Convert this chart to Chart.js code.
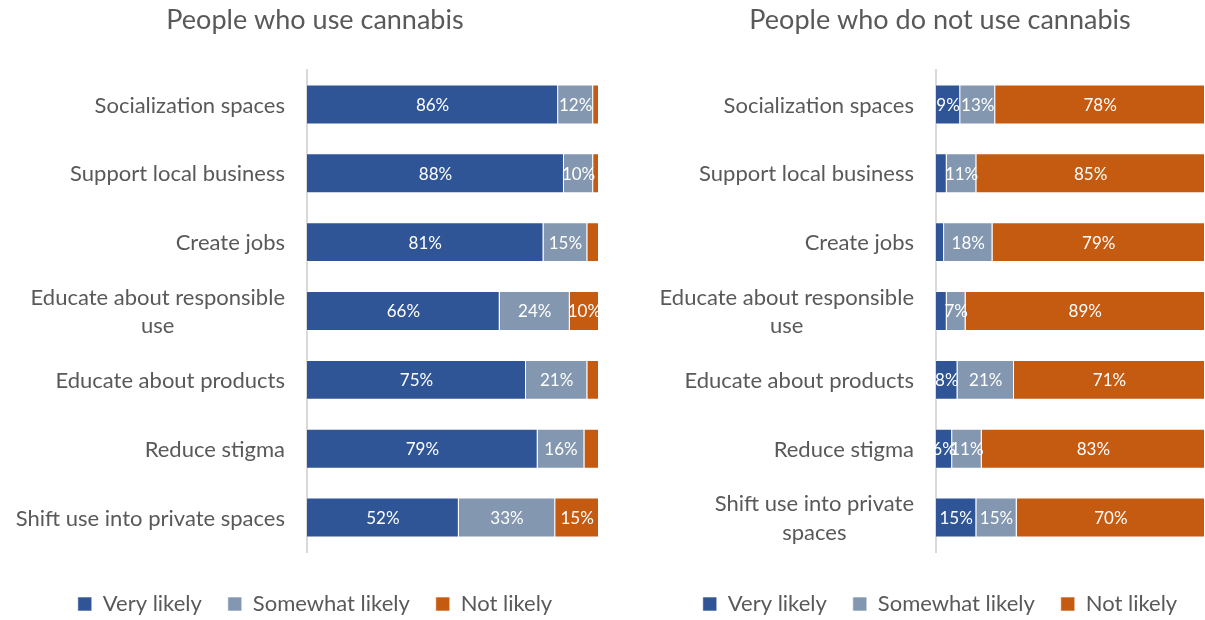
<!DOCTYPE html>
<html>
<head>
<meta charset="utf-8">
<script src="https://cdn.jsdelivr.net/npm/chart.js@4.4.1/dist/chart.umd.min.js"></script>
<style>
  html, body { margin: 0; padding: 0; background: #fff; overflow: hidden; width: 1205px; height: 620px; }
  .box { position: absolute; top: 0; height: 625px; }
  #boxUse { left: 0; width: 630px; }
  #boxNoUse { left: 650px; width: 580px; }
</style>
</head>
<body>
<div class="box" id="boxUse"><canvas id="chartUse"></canvas></div>
<div class="box" id="boxNoUse"><canvas id="chartNoUse"></canvas></div>
<script>
// Category labels (line breaks as shown under each panel)
const labelsUse = [
  'Socialization spaces',
  'Support local business',
  'Create jobs',
  ['Educate about responsible', 'use'],
  'Educate about products',
  'Reduce stigma',
  'Shift use into private spaces'
];
const labelsNoUse = [
  'Socialization spaces',
  'Support local business',
  'Create jobs',
  ['Educate about responsible', 'use'],
  'Educate about products',
  'Reduce stigma',
  ['Shift use into private', 'spaces']
];

const seriesNames = ['Very likely', 'Somewhat likely', 'Not likely'];
const seriesColors = ['#2F5597', '#8497B0', '#C55A11'];

// People who use cannabis (%)
const useVery      = [86, 88, 81, 66, 75, 79, 52];
const useSomewhat  = [12, 10, 15, 24, 21, 16, 33];
const useNot       = [2, 2, 4, 10, 4, 5, 15];

// People who do not use cannabis (%)
const noUseVery     = [9, 4, 3, 4, 8, 6, 15];
const noUseSomewhat = [13, 11, 18, 7, 21, 11, 15];
const noUseNot      = [78, 85, 79, 89, 71, 83, 70];

const FONT = 'Lato, "Open Sans", sans-serif';
const TEXT = '#595959';
const TICK_SIZE = 22;
const TICK_LINE = 28.6;
const TICK_GAP = 22;

// Writes the percentage in the middle of each segment that is wide enough
const segmentLabels = {
  id: 'segmentLabels',
  afterDatasetsDraw(chart) {
    const ctx = chart.ctx;
    ctx.save();
    ctx.font = '17px ' + FONT;
    ctx.fillStyle = '#ffffff';
    ctx.textAlign = 'center';
    ctx.textBaseline = 'middle';
    chart.data.datasets.forEach((ds, di) => {
      const meta = chart.getDatasetMeta(di);
      meta.data.forEach((bar, i) => {
        const v = ds.data[i];
        if (v < 6) return;
        const p = bar.getCenterPoint();
        ctx.fillText(v + '%', p.x, p.y + 1);
      });
    });
    ctx.restore();
  }
};

// Category labels: each block sits right next to the axis, lines centred within it
const categoryLabels = {
  id: 'categoryLabels',
  afterDraw(chart) {
    const scale = chart.scales.y;
    const ctx = chart.ctx;
    ctx.save();
    ctx.font = TICK_SIZE + 'px ' + FONT;
    ctx.fillStyle = TEXT;
    ctx.textAlign = 'center';
    ctx.textBaseline = 'middle';
    chart.data.labels.forEach((lab, i) => {
      const lines = Array.isArray(lab) ? lab : [lab];
      const blockW = Math.max(...lines.map(t => ctx.measureText(t).width));
      const cx = scale.right - TICK_GAP - blockW / 2;
      const cy = scale.getPixelForValue(i);
      const y0 = cy - (lines.length - 1) * TICK_LINE / 2;
      lines.forEach((t, k) => ctx.fillText(t, cx, y0 + k * TICK_LINE + 1));
    });
    ctx.restore();
  }
};

function buildChart(canvasId, title, labels, values, axisWidth, rightGap) {
  return new Chart(document.getElementById(canvasId), {
    type: 'bar',
    data: {
      labels: labels,
      datasets: values.map((vals, k) => ({
        label: seriesNames[k],
        data: vals,
        backgroundColor: seriesColors[k],
        borderColor: 'rgba(255,255,255,0.6)',
        borderWidth: 1,
        categoryPercentage: 1,
        barPercentage: 0.58
      }))
    },
    options: {
      indexAxis: 'y',
      responsive: true,
      maintainAspectRatio: false,
      animation: false,
      layout: { padding: 0 },
      scales: {
        x: {
          stacked: true,
          min: 0,
          max: 100,
          display: true,
          ticks: { display: false },
          grid: { display: false },
          border: { display: false },
          afterFit: s => { s.height = 15; }
        },
        y: {
          stacked: true,
          grid: { display: false, drawTicks: false },
          border: { display: true, color: '#D9D9D9', width: 2 },
          ticks: { display: false },
          afterFit: s => { s.width = axisWidth; }
        },
        gap: {
          type: 'linear',
          position: 'right',
          display: true,
          ticks: { display: false },
          grid: { display: false },
          border: { display: false },
          afterFit: s => { s.width = rightGap; }
        }
      },
      plugins: {
        title: {
          display: true,
          text: title,
          color: TEXT,
          font: { family: FONT, size: 27, weight: 'normal', lineHeight: 1.2 },
          padding: { top: 4, bottom: 33.6 }
        },
        legend: {
          position: 'bottom',
          labels: {
            color: TEXT,
            boxWidth: 14,
            boxHeight: 14,
            padding: 26,
            font: { family: FONT, size: 22 }
          }
        },
        tooltip: { enabled: false }
      }
    },
    plugins: [segmentLabels, categoryLabels]
  });
}

buildChart('chartUse', 'People who use cannabis', labelsUse,
  [useVery, useSomewhat, useNot], 307, 31);
buildChart('chartNoUse', 'People who do not use cannabis', labelsNoUse,
  [noUseVery, noUseSomewhat, noUseNot], 286, 25);
</script>
</body>
</html>
